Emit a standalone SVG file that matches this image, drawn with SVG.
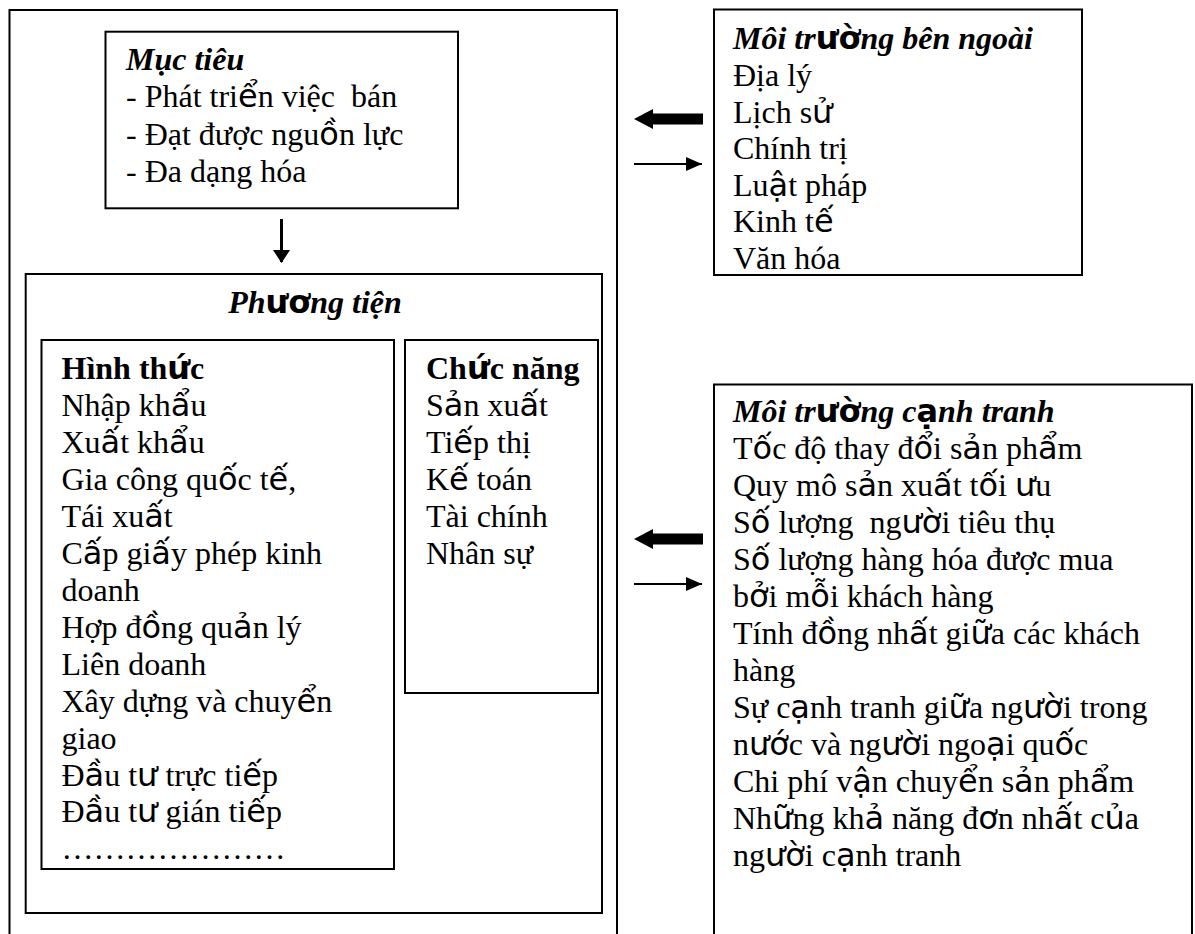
<svg xmlns="http://www.w3.org/2000/svg" width="1195" height="934" viewBox="0 0 1195 934">
<style>
.box{fill:#fff;stroke:#000;stroke-width:2}
.t{font-family:"Liberation Serif","Times New Roman",serif;font-size:32px;fill:#000}
.bi{font-weight:bold;font-style:italic}
.b{font-weight:bold}
.s{font-family:"DejaVu Sans",sans-serif}
.sb{font-family:"DejaVu Sans",sans-serif;font-weight:bold;font-style:normal}
.thin{stroke:#000;stroke-width:2;fill:none}
</style>
<defs>
<marker id="headThin" markerUnits="userSpaceOnUse" markerWidth="18" markerHeight="16" refX="16" refY="7" orient="auto">
<path d="M0,0 L16,7 L0,14 Z" fill="#000"/>
</marker>
<marker id="headDown" markerUnits="userSpaceOnUse" markerWidth="14" markerHeight="18" refX="12" refY="8.5" orient="auto">
<path d="M0,0 L13,8.5 L0,17 Z" fill="#000"/>
</marker>
</defs>
<rect id="outer" class="box" x="9.5" y="10" width="607.5" height="960"/>
<g id="muc-tieu">
<rect class="box" x="105.5" y="31.7" width="352.5" height="176.6"/>
<text class="t bi" x="126" y="70">Mục tiêu</text>
<text class="t" x="126" y="107" xml:space="preserve">- Phát tri<tspan class="s">ể</tspan>n việc  bán</text>
<text class="t" x="126" y="144.5">- Đạt được ngu<tspan class="s">ồ</tspan>n lực</text>
<text class="t" x="126" y="182">- Đa dạng hóa</text>
</g>
<g id="phuong-tien">
<rect class="box" x="25.7" y="274" width="576.3" height="639"/>
<text class="t bi" x="315" y="313" text-anchor="middle">Ph<tspan class="sb">ươ</tspan>ng tiện</text>
</g>
<g id="hinh-thuc">
<rect class="box" x="41.5" y="340" width="352.5" height="529"/>
<text class="t b" x="61.5" y="379">Hình th<tspan class="sb">ứ</tspan>c</text>
<text class="t" x="61.5" y="416">Nhập kh<tspan class="s">ẩ</tspan>u</text>
<text class="t" x="61.5" y="453">Xu<tspan class="s">ấ</tspan>t kh<tspan class="s">ẩ</tspan>u</text>
<text class="t" x="61.5" y="490">Gia công qu<tspan class="s">ố</tspan>c t<tspan class="s">ế</tspan>,</text>
<text class="t" x="61.5" y="527">Tái xu<tspan class="s">ấ</tspan>t</text>
<text class="t" x="61.5" y="564">C<tspan class="s">ấ</tspan>p gi<tspan class="s">ấ</tspan>y phép kinh</text>
<text class="t" x="61.5" y="601">doanh</text>
<text class="t" x="61.5" y="638">Hợp đ<tspan class="s">ồ</tspan>ng qu<tspan class="s">ả</tspan>n lý</text>
<text class="t" x="61.5" y="675">Liên doanh</text>
<text class="t" x="61.5" y="712">Xây dựng và chuy<tspan class="s">ể</tspan>n</text>
<text class="t" x="61.5" y="749">giao</text>
<text class="t" x="61.5" y="785.5">Đ<tspan class="s">ầ</tspan>u t<tspan class="s">ư</tspan> trực ti<tspan class="s">ế</tspan>p</text>
<text class="t" x="61.5" y="822">Đ<tspan class="s">ầ</tspan>u t<tspan class="s">ư</tspan> gián ti<tspan class="s">ế</tspan>p</text>
<text class="t" x="61.5" y="858.5">…………………</text>
</g>
<g id="chuc-nang">
<rect class="box" x="405" y="340" width="193" height="353"/>
<text class="t b" x="426" y="379">Ch<tspan class="sb">ứ</tspan>c năng</text>
<text class="t" x="426" y="416">S<tspan class="s">ả</tspan>n xu<tspan class="s">ấ</tspan>t</text>
<text class="t" x="426" y="453">Ti<tspan class="s">ế</tspan>p thị</text>
<text class="t" x="426" y="490">K<tspan class="s">ế</tspan> toán</text>
<text class="t" x="426" y="527">Tài chính</text>
<text class="t" x="426" y="564">Nhân sự</text>
</g>
<g id="moi-truong-ben-ngoai">
<rect class="box" x="714" y="9.5" width="368" height="265.5"/>
<text class="t bi" x="733" y="49">Môi tr<tspan class="sb">ườ</tspan>ng bên ngoài</text>
<text class="t" x="733" y="86">Địa lý</text>
<text class="t" x="733" y="122.6">Lịch s<tspan class="s">ử</tspan></text>
<text class="t" x="733" y="159.2">Chính trị</text>
<text class="t" x="733" y="195.8">Lu<tspan class="s">ậ</tspan>t pháp</text>
<text class="t" x="733" y="232.4">Kinh t<tspan class="s">ế</tspan></text>
<text class="t" x="733" y="269">Văn hóa</text>
</g>
<g id="moi-truong-canh-tranh">
<rect class="box" x="714" y="384.5" width="478" height="600"/>
<text class="t bi" x="733" y="422">Môi tr<tspan class="sb">ườ</tspan>ng c<tspan class="sb">ạ</tspan>nh tranh</text>
<text class="t" x="733" y="459">T<tspan class="s">ố</tspan>c độ thay đ<tspan class="s">ổ</tspan>i s<tspan class="s">ả</tspan>n ph<tspan class="s">ẩ</tspan>m</text>
<text class="t" x="733" y="496">Quy mô s<tspan class="s">ả</tspan>n xu<tspan class="s">ấ</tspan>t t<tspan class="s">ố</tspan>i <tspan class="s">ư</tspan>u</text>
<text class="t" x="733" y="533" xml:space="preserve">S<tspan class="s">ố</tspan> lượng  ng<tspan class="s">ườ</tspan>i tiêu thụ</text>
<text class="t" x="733" y="570">S<tspan class="s">ố</tspan> lượng hàng hóa được mua</text>
<text class="t" x="733" y="607">b<tspan class="s">ở</tspan>i m<tspan class="s">ỗ</tspan>i khách hàng</text>
<text class="t" x="733" y="644">Tính đ<tspan class="s">ồ</tspan>ng nh<tspan class="s">ấ</tspan>t gi<tspan class="s">ữ</tspan>a các khách</text>
<text class="t" x="733" y="681">hàng</text>
<text class="t" x="733" y="718">Sự c<tspan class="s">ạ</tspan>nh tranh gi<tspan class="s">ữ</tspan>a ng<tspan class="s">ườ</tspan>i trong</text>
<text class="t" x="733" y="755">n<tspan class="s">ướ</tspan>c và ng<tspan class="s">ườ</tspan>i ngo<tspan class="s">ạ</tspan>i qu<tspan class="s">ố</tspan>c</text>
<text class="t" x="733" y="792">Chi phí v<tspan class="s">ậ</tspan>n chuy<tspan class="s">ể</tspan>n s<tspan class="s">ả</tspan>n ph<tspan class="s">ẩ</tspan>m</text>
<text class="t" x="733" y="829">Nh<tspan class="s">ữ</tspan>ng kh<tspan class="s">ả</tspan> năng đ<tspan class="s">ơ</tspan>n nh<tspan class="s">ấ</tspan>t c<tspan class="s">ủ</tspan>a</text>
<text class="t" x="733" y="866">ng<tspan class="s">ườ</tspan>i c<tspan class="s">ạ</tspan>nh tranh</text>
</g>
<g id="connectors">
<line x1="281.5" y1="219" x2="281.5" y2="262" stroke="#000" stroke-width="3" marker-end="url(#headDown)"/>
<polygon points="634,119 653,109 653,113.5 703,113.5 703,124.5 653,124.5 653,129" fill="#000"/>
<line class="thin" x1="634" y1="164" x2="702" y2="164" marker-end="url(#headThin)"/>
<polygon points="634,539 653,529 653,533.5 703,533.5 703,544.5 653,544.5 653,549" fill="#000"/>
<line class="thin" x1="634" y1="584" x2="702" y2="584" marker-end="url(#headThin)"/>
</g>
</svg>
